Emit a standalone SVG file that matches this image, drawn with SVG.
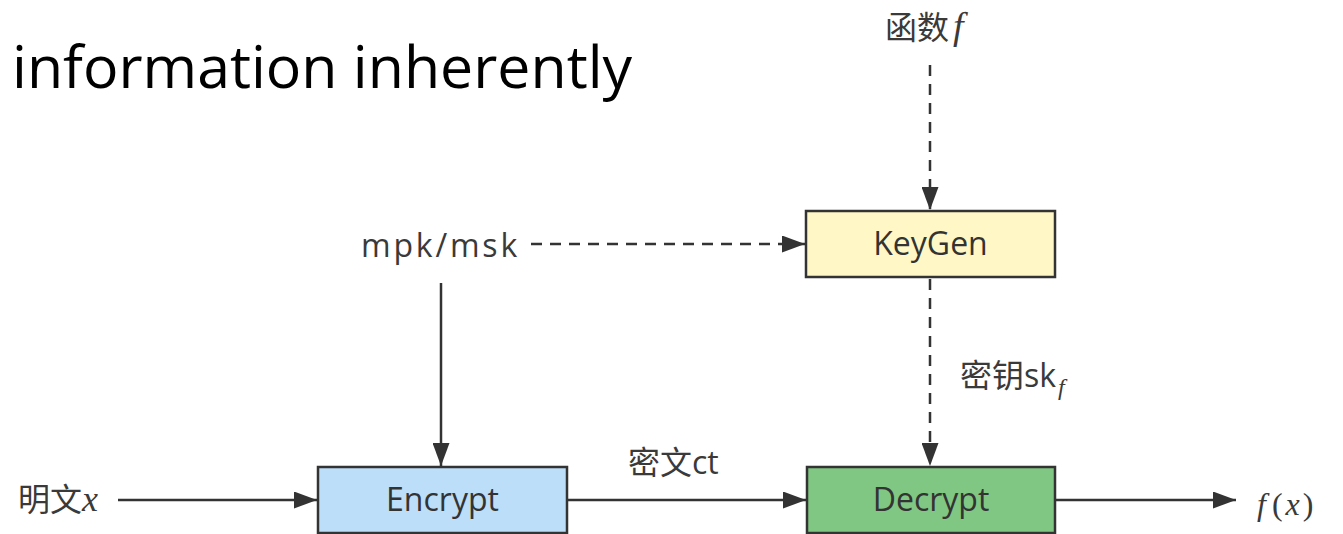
<svg xmlns="http://www.w3.org/2000/svg" width="1343" height="534" viewBox="0 0 1343 534">
  <style>
    .title { font-family: "Open Sans", "Noto Sans", sans-serif; font-size: 59px; fill: #000; }
    .lbl { font-family: "Open Sans", "Noto Sans", "Noto Sans CJK SC", sans-serif; font-size: 32px; fill: #3a3a3a; }
    .math { font-family: "Liberation Serif", "DejaVu Serif", serif; font-style: italic; }
    .box { stroke: #333; stroke-width: 2.5; }
    .btxt { font-family: "Open Sans", "Noto Sans", sans-serif; font-size: 32px; fill: #333; text-anchor: middle; }
    .ln { stroke: #333; stroke-width: 2.5; fill: none; }
    .dash { stroke-dasharray: 11 8; }
  </style>
  <defs>
    <marker id="arr" viewBox="0 0 23 17" refX="23" refY="8.5" markerWidth="23" markerHeight="17" markerUnits="userSpaceOnUse" orient="auto">
      <path d="M0,0 L23,8.5 L0,17 Z" fill="#333"/>
    </marker>
  </defs>

  <rect width="1343" height="534" fill="#fff"/>

  <text class="title" x="12" y="88">information inherently</text>

  <!-- connectors -->
  <g id="connectors">
    <line class="ln dash" x1="930" y1="65" x2="930" y2="210" marker-end="url(#arr)"/>
    <line class="ln dash" x1="531" y1="244" x2="805" y2="244" marker-end="url(#arr)"/>
    <line class="ln" x1="441" y1="283" x2="441" y2="466" marker-end="url(#arr)"/>
    <line class="ln dash" x1="930" y1="279" x2="930" y2="466" marker-end="url(#arr)"/>
    <line class="ln" x1="118" y1="500" x2="317" y2="500" marker-end="url(#arr)"/>
    <line class="ln" x1="568" y1="500" x2="806" y2="500" marker-end="url(#arr)"/>
    <line class="ln" x1="1056" y1="500" x2="1236" y2="500" marker-end="url(#arr)"/>
  </g>

  <!-- labels -->
  <g id="label-f">
    <text class="lbl" x="885" y="39">函数<tspan class="math" font-size="38" dx="4">f</tspan></text>
  </g>
  <g id="label-mpk">
    <text class="lbl" x="361" y="257" font-size="38" letter-spacing="2.8">mpk/msk</text>
  </g>
  <g id="label-sk">
    <text class="lbl" x="960" y="387">密钥sk<tspan class="math" font-size="24" dy="8" dx="2">f</tspan></text>
  </g>
  <g id="label-ct">
    <text class="lbl" x="628" y="474" font-size="34">密文ct</text>
  </g>
  <g id="label-x">
    <text class="lbl" x="18" y="511">明文<tspan class="math" font-size="36">x</tspan></text>
  </g>
  <g id="label-fx">
    <text class="lbl math" x="1257" y="515" font-size="46">f<tspan font-style="normal" dx="6">(</tspan><tspan dx="3">x</tspan><tspan font-style="normal" dx="3">)</tspan></text>
  </g>

  <!-- nodes -->
  <g id="keygen">
    <rect class="box" x="806" y="211" width="249" height="66" fill="#fff8c6"/>
    <text class="btxt" x="930.5" y="255">KeyGen</text>
  </g>
  <g id="encrypt">
    <rect class="box" x="318" y="467" width="249" height="66" fill="#bcdef8"/>
    <text class="btxt" x="442.5" y="511">Encrypt</text>
  </g>
  <g id="decrypt">
    <rect class="box" x="807" y="467" width="248" height="66" fill="#80c783"/>
    <text class="btxt" x="931" y="511">Decrypt</text>
  </g>
</svg>
